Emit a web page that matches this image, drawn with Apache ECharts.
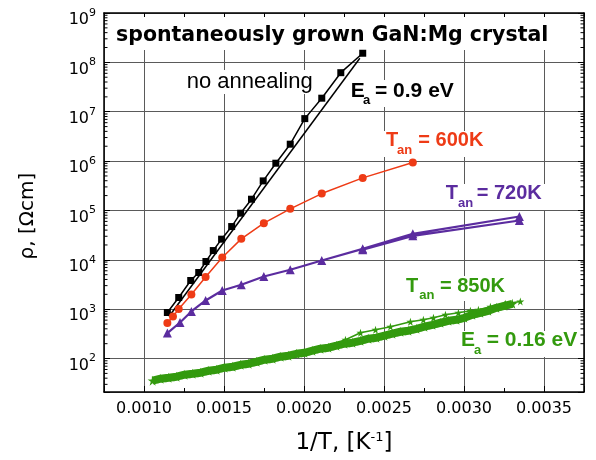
<!DOCTYPE html>
<html><head><meta charset="utf-8">
<script src="https://cdn.jsdelivr.net/npm/echarts@6/dist/echarts.min.js"></script>
<style>html,body{margin:0;padding:0;background:#fff}#c{width:596px;height:460px}</style>
</head><body><div id="c"></div>
<script>
// ---- data (1/T in K^-1, rho in Ohm*cm) ----
const noAnnealX = [0.001146,0.001217,0.001292,0.001342,0.001387,0.001433,0.001485,0.001548,0.001604,0.001672,0.001745,0.001824,0.001914,0.002005,0.002111,0.00223,0.002367];
const noAnnealRho = [857,1726,3811,5530,9250,15400,26200,47200,88100,169000,397000,906000,2.2e6,7.25e6,1.88e7,6.18e7,1.53e8];
const fit09X = [0.001156,0.002349];
const fit09Rho = [711,1.21e8];
const t600X = [0.001146,0.001181,0.001217,0.001296,0.001385,0.001489,0.001608,0.001749,0.001914,0.002111,0.002367,0.00268];
const t600Rho = [524,711,1004,1985,4470,11140,26600,55300,107700,220000,457000,933000];
const t720X = [0.001146,0.001225,0.001296,0.001385,0.001489,0.001608,0.001749,0.001914,0.002111,0.002367,0.00268,0.003346,0.003346,0.00268,0.002367];
const t720Rho = [328,538,898,1500,2390,3120,4590,6280,9680,16700,33600,75300,62500,30600,16000];
const t850X = [0.001054,0.001104,0.001154,0.001204,0.001254,0.001304,0.001354,0.001404,0.001454,0.001504,0.001554,0.001604,0.001654,0.001704,0.001754,0.001804,0.001854,0.001903,0.001953,0.002003,0.002053,0.002103,0.002153,0.002203,0.002253,0.002303,0.002353,0.002403,0.002453,0.002503,0.002553,0.002603,0.002653,0.002703,0.002753,0.002803,0.002853,0.002903,0.002953,0.003002,0.003052,0.003102,0.003152,0.003202,0.003252,0.003302];
const t850Rho = [35.6,39.0,40.8,42.8,47.0,49.2,51.6,56.6,59.3,65.2,68.2,74.8,78.5,86.1,94.6,99.1,109,114,125,131,144,158,166,182,200,209,229,252,264,290,318,349,366,401,441,483,531,582,610,670,771,845,929,1067,1172,1285];
const t850bX = [0.002166,0.002259,0.002353,0.002447,0.00254,0.002665,0.002746,0.002809,0.002884,0.002965,0.00304,0.00309,0.003165,0.003259,0.003352];
const t850bRho = [173,240,333,383,441,556,610,670,771,845,929,973,1119,1285,1432];

// axis settings
const xMin = 0.00075, xMax = 0.00375;
const yMin = 21, yMax = 1e9;
const minorMult = [2,3,4,5,6,7,8,9];
const minorDecades = [1,2,3,4,5,6,7,8];

const BLACK = '#000', RED = '#ee3b16', PURPLE = '#5b2c9f', GREEN = '#339a0e';
const STAR = 'path://M50,2L61,38L98,38L68,60L79,96L50,74L21,96L32,60L2,38L39,38Z';
const AX = 'DejaVu Sans', AN = 'Liberation Sans';

function pairs(xs, ys) { return xs.map((x, i) => [x, ys[i]]); }
const yMinor = [];
minorDecades.forEach(d => minorMult.forEach(m => { const v = m * Math.pow(10, d); if (v > yMin && v < yMax) yMinor.push([xMin, v]); }));

function txt(text, x, y, size, color, weight, fam) {
  return {type: 'text', x: x, y: y, z: 10, style: {text: text, fill: color, fontSize: size,
    fontWeight: weight || 'bold', fontFamily: fam || AN, align: 'left', verticalAlign: 'middle'}};
}
function box(x, y, w, h) {
  return {type: 'rect', z: 1, shape: {x: x, y: y, width: w, height: h}, style: {fill: '#fff'}};
}

const chart = echarts.init(document.getElementById('c'), null, {renderer: 'canvas'});
chart.setOption({
  animation: false,
  backgroundColor: '#fff',
  grid: {left: 104, top: 13, width: 480, height: 379, outerBoundsMode: 'none'},
  xAxis: [
    {type: 'value', min: xMin, max: xMax, position: 'bottom',
     axisLine: {show: true, lineStyle: {color: BLACK, width: 1.5}},
     axisTick: {show: true, inside: true, length: 6, lineStyle: {color: BLACK}},
     axisLabel: {margin: 9, color: BLACK, fontFamily: AX, fontSize: 16,
       formatter: v => (Math.abs(v / 0.0005 - Math.round(v / 0.0005)) < 1e-6) ? v.toFixed(4) : ''},
     splitLine: {show: true, lineStyle: {color: '#5a5a5a', width: 1}},
     name: '{a|1/T, [K}{s|-1}{a|]}', nameLocation: 'middle', nameGap: 39,
     nameTextStyle: {rich: {a: {fontFamily: AX, fontSize: 23, color: BLACK},
       s: {fontFamily: AX, fontSize: 13, color: BLACK, padding: [0, 0, 12, 0]}}}},
    {type: 'value', min: xMin, max: xMax, interval: 0.00025, position: 'bottom',
     axisLine: {show: false}, axisTick: {show: true, inside: true, length: 4, lineStyle: {color: BLACK}},
     axisLabel: {show: false}, splitLine: {show: false}},
    {type: 'value', min: xMin, max: xMax, interval: 0.00025, position: 'top',
     axisLine: {show: true, lineStyle: {color: BLACK, width: 1.5}},
     axisTick: {show: true, inside: true, length: 4, lineStyle: {color: BLACK}},
     axisLabel: {show: false}, splitLine: {show: false}}
  ],
  yAxis: [
    {type: 'log', logBase: 10, min: yMin, max: yMax, position: 'left',
     axisLine: {show: true, lineStyle: {color: BLACK, width: 1.5}},
     axisTick: {show: true, inside: true, length: 6, lineStyle: {color: BLACK}},
     minorTick: {show: false},
     axisLabel: {margin: 8, color: BLACK,
       formatter: v => { const l = Math.log10(v), e = Math.round(l); return Math.abs(l - e) < 1e-6 ? '{b|10}{s|' + e + '}' : ''; },
       rich: {b: {fontFamily: AX, fontSize: 16, color: BLACK, padding: [14, 0, 0, 0]},
              s: {fontFamily: AX, fontSize: 11, color: BLACK}}},
     splitLine: {show: true, lineStyle: {color: '#5a5a5a', width: 1}}},
    {type: 'log', logBase: 10, min: yMin, max: yMax, position: 'right',
     axisLine: {show: true, lineStyle: {color: BLACK, width: 1.5}},
     axisTick: {show: true, inside: true, length: 6, lineStyle: {color: BLACK}},
     minorTick: {show: false},
     axisLabel: {show: false}, splitLine: {show: false}}
  ],
  series: [
    {type: 'custom', data: yMinor, silent: true, z: 5, encode: {x: 0, y: 1},
     renderItem: (params, api) => {
       const p = api.coord([xMin, api.value(1)]);
       const q = api.coord([xMax, api.value(1)]);
       return {type: 'group', children: [
         {type: 'line', shape: {x1: p[0], y1: p[1], x2: p[0] + 3.5, y2: p[1]}, style: {stroke: BLACK, lineWidth: 1}},
         {type: 'line', shape: {x1: q[0] - 3.5, y1: q[1], x2: q[0], y2: q[1]}, style: {stroke: BLACK, lineWidth: 1}}
       ]};
     }},
    {type: 'line', data: pairs(fit09X, fit09Rho), symbol: 'none', lineStyle: {color: BLACK, width: 1.5}, z: 3},
    {type: 'line', data: pairs(noAnnealX, noAnnealRho), symbol: 'rect', symbolSize: 7,
     itemStyle: {color: BLACK}, lineStyle: {color: BLACK, width: 1.5}, z: 4},
    {type: 'line', data: pairs(t600X, t600Rho), symbol: 'circle', symbolSize: 8,
     itemStyle: {color: RED}, lineStyle: {color: RED, width: 1.5}, z: 4},
    {type: 'line', data: pairs(t720X, t720Rho), symbol: 'triangle', symbolSize: 9,
     itemStyle: {color: PURPLE}, lineStyle: {color: PURPLE, width: 2.2}, z: 4},
    {type: 'line', data: pairs(t850X, t850Rho), symbol: STAR, symbolSize: 10,
     itemStyle: {color: GREEN}, lineStyle: {color: GREEN, width: 8}, z: 4},
    {type: 'line', data: pairs(t850bX, t850bRho), symbol: STAR, symbolSize: 8,
     itemStyle: {color: GREEN}, lineStyle: {color: GREEN, width: 1.5}, z: 4}
  ],
  graphic: [
    box(106, 17, 469, 33),
    txt('spontaneously grown GaN:Mg crystal', 116, 35.8, 20.5, BLACK, 'bold', AX),
    box(185, 70, 130, 24),
    txt('no annealing', 186.7, 81.5, 22, BLACK, 'normal', AN),
    box(349, 80, 108, 27),
    txt('E', 350.7, 90.8, 21, BLACK), txt('a', 363, 100, 13, BLACK), txt('= 0.9 eV', 375, 90.8, 21, BLACK),
    box(384, 131, 102, 26),
    txt('T', 386, 140.5, 20, RED), txt('an', 397, 150, 13, RED), txt('= 600K', 418.3, 140.5, 20, RED),
    box(444, 184, 102, 26),
    txt('T', 445.7, 193.8, 20, PURPLE), txt('an', 458, 203, 13, PURPLE), txt('= 720K', 476.7, 193.8, 20, PURPLE),
    box(404, 276, 104, 25),
    txt('T', 406, 286, 20, GREEN), txt('an', 419.3, 295, 13, GREEN), txt('= 850K', 440, 286, 20, GREEN),
    box(459, 331, 119, 26),
    txt('E', 461, 340.5, 21, GREEN), txt('a', 474, 350, 13, GREEN), txt('= 0.16 eV', 486.7, 340.5, 21, GREEN),
    {type: 'text', x: 28, y: 216, rotation: Math.PI / 2, z: 10,
     style: {text: 'ρ, [Ωcm]', fill: BLACK, fontSize: 20, fontFamily: AX, align: 'center', verticalAlign: 'middle'}}
  ]
});
</script>
</body></html>
